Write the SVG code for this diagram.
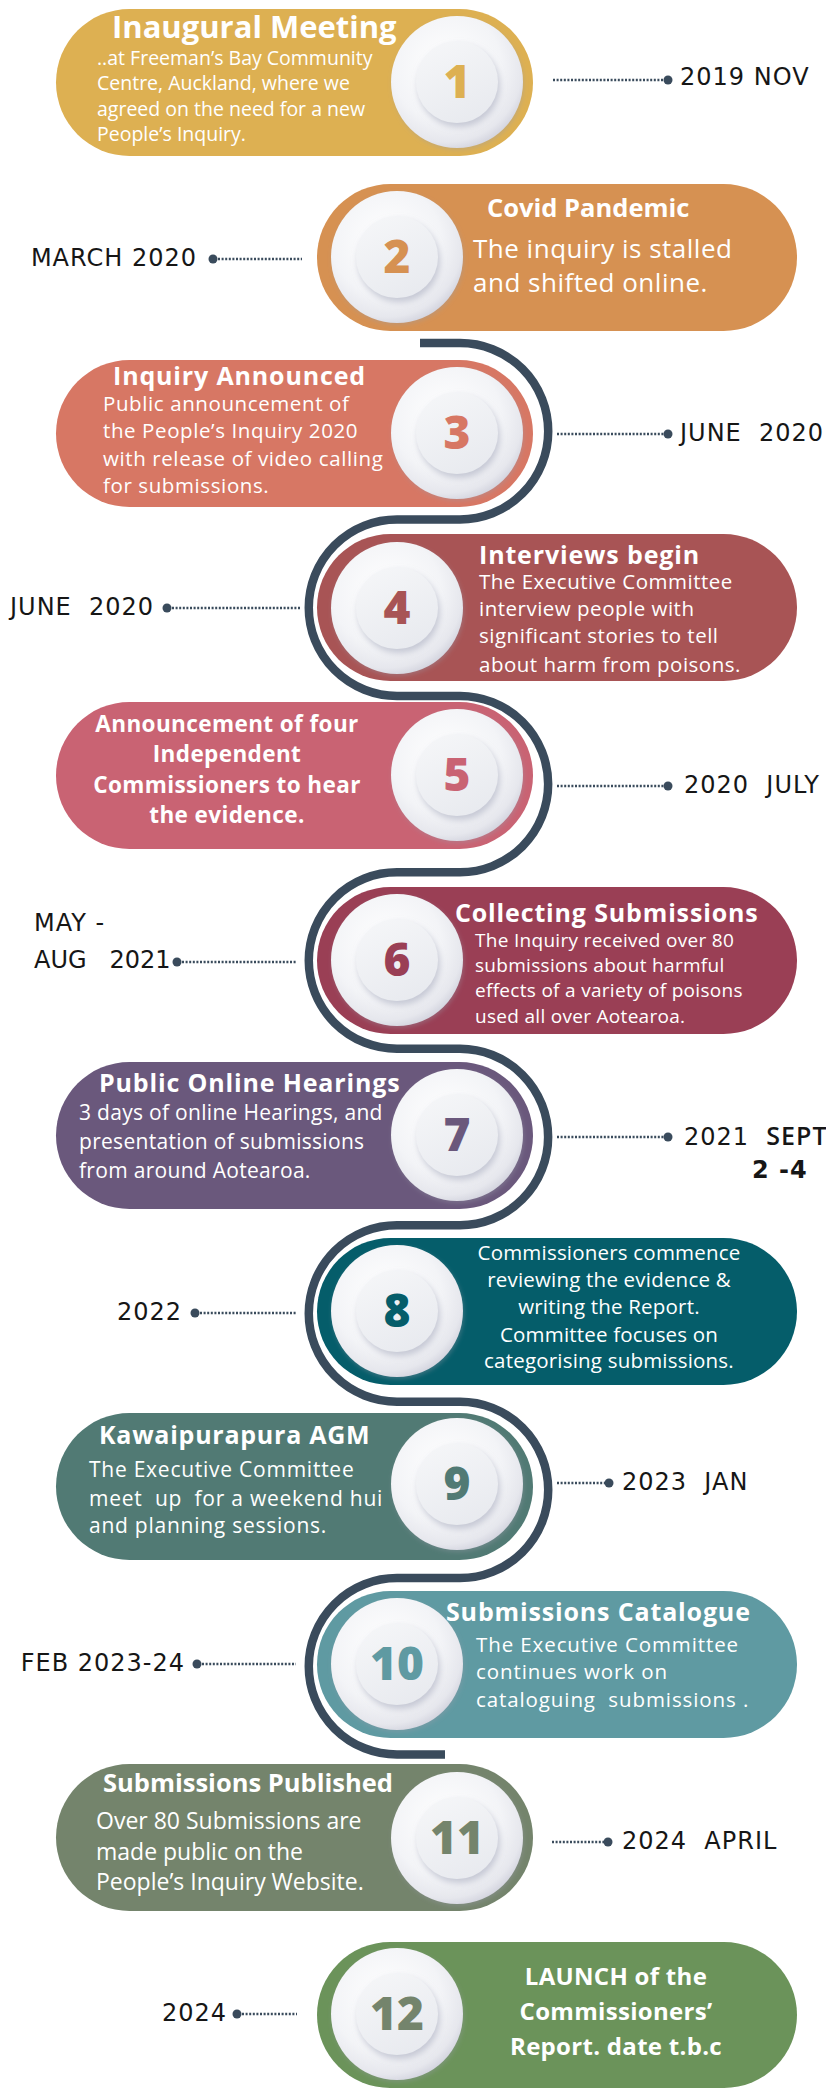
<svg xmlns="http://www.w3.org/2000/svg" xmlns:xlink="http://www.w3.org/1999/xlink" width="826" height="2089" viewBox="0 0 826 2089">
<style>
.t{font-family:"Open Sans","Liberation Sans",sans-serif;font-weight:700;fill:#fff}
.b{font-family:"Open Sans","Liberation Sans",sans-serif;font-weight:400;fill:#fff}
.c{text-anchor:middle}
.n{font-family:"Open Sans","Liberation Sans",sans-serif;font-weight:800;font-size:46px;text-anchor:middle}
.d{font-family:"DejaVu Sans","Liberation Sans",sans-serif;font-size:24px;fill:#161616;letter-spacing:1px}
.e{text-anchor:end}
.lead{stroke:#3a4b5c;stroke-width:2.4;stroke-dasharray:2 1.6;fill:none}
.dot{fill:#3a4b5c}
.snake{fill:none;stroke:#3a4b5c;stroke-width:8.5}
</style>
<defs>
<radialGradient id="gOuter" cx="0.42" cy="0.38" r="0.64">
<stop offset="0" stop-color="#ffffff"/>
<stop offset="0.65" stop-color="#f3f4f7"/>
<stop offset="0.9" stop-color="#e6e7ed"/>
<stop offset="1" stop-color="#d5d6e0"/>
</radialGradient>
<linearGradient id="gInner" x1="0.2" y1="0" x2="0.7" y2="1">
<stop offset="0" stop-color="#f5f6f8"/>
<stop offset="1" stop-color="#e8eaef"/>
</linearGradient>
<filter id="sh" x="-30%" y="-30%" width="170%" height="170%">
<feDropShadow dx="2" dy="4" stdDeviation="3" flood-color="#aeb1c2" flood-opacity="0.65"/>
</filter>
<filter id="sh2" x="-20%" y="-20%" width="150%" height="150%">
<feDropShadow dx="1" dy="2" stdDeviation="2" flood-color="#9a9cab" flood-opacity="0.35"/>
</filter>
<g id="badge">
<circle r="66" fill="url(#gOuter)" filter="url(#sh2)"/>
<circle r="41" fill="url(#gInner)" filter="url(#sh)"/>
</g>
</defs>
<rect width="826" height="2089" fill="#ffffff"/>

<g id="connectors">
<path class="snake" d="M420 343 H460 A88.22 88.22 0 0 1 460 519.44 H397 A88.22 88.22 0 0 0 397 695.88 H460 A88.22 88.22 0 0 1 460 872.32 H397 A88.22 88.22 0 0 0 397 1048.76 H460 A88.22 88.22 0 0 1 460 1225.2 H397 A88.22 88.22 0 0 0 397 1401.64 H460 A88.22 88.22 0 0 1 460 1578.08 H397 A88.22 88.22 0 0 0 397 1754.52 H445"/>
<path class="lead" d="M553 80 H664"/><circle class="dot" cx="668" cy="80" r="4.5"/>
<path class="lead" d="M218 259 H302"/><circle class="dot" cx="213" cy="259" r="4.5"/>
<path class="lead" d="M557 434 H664"/><circle class="dot" cx="668" cy="434" r="4.5"/>
<path class="lead" d="M172 608 H301"/><circle class="dot" cx="167" cy="608" r="4.5"/>
<path class="lead" d="M557 786 H664"/><circle class="dot" cx="668" cy="786" r="4.5"/>
<path class="lead" d="M182 962 H296"/><circle class="dot" cx="177" cy="962" r="4.5"/>
<path class="lead" d="M557 1137 H664"/><circle class="dot" cx="668" cy="1137" r="4.5"/>
<path class="lead" d="M200 1313 H296"/><circle class="dot" cx="195" cy="1313" r="4.5"/>
<path class="lead" d="M557 1483 H605"/><circle class="dot" cx="609" cy="1483" r="4.5"/>
<path class="lead" d="M202 1664 H296"/><circle class="dot" cx="197" cy="1664" r="4.5"/>
<path class="lead" d="M552 1842 H604"/><circle class="dot" cx="608" cy="1842" r="4.5"/>
<path class="lead" d="M242 2014 H297"/><circle class="dot" cx="237" cy="2014" r="4.5"/>
</g>

<g id="node1">
<rect x="56" y="9" width="477" height="147" rx="73.5" fill="#DDB052"/>
<use xlink:href="#badge" x="457" y="82"/>
<text class="n" x="457" y="98" fill="#DDB052">1</text>
<text class="t" x="112" y="38" font-size="31">Inaugural Meeting</text>
<text class="b" font-size="19.5"><tspan x="97" y="65">..at Freeman’s Bay Community</tspan><tspan x="97" y="90">Centre, Auckland, where we</tspan><tspan x="97" y="116">agreed on the need for a new</tspan><tspan x="97" y="141">People’s Inquiry.</tspan></text>
<text class="d" x="680" y="85">2019 NOV</text>
</g>

<g id="node2">
<rect x="317" y="184" width="480" height="147" rx="73.5" fill="#D69152"/>
<use xlink:href="#badge" x="397" y="257"/>
<text class="n" x="397" y="273" fill="#D69152">2</text>
<text class="t" x="487" y="217" font-size="25.5">Covid Pandemic</text>
<text class="b" font-size="26" letter-spacing="0.5"><tspan x="473" y="258">The inquiry is stalled</tspan><tspan x="473" y="292">and shifted online.</tspan></text>
<text class="d e" x="197" y="266">MARCH 2020</text>
</g>

<g id="node3">
<rect x="56" y="360" width="477" height="147" rx="73.5" fill="#D77764"/>
<use xlink:href="#badge" x="457" y="433"/>
<text class="n" x="457" y="449" fill="#D77764">3</text>
<text class="t" x="113" y="385" font-size="25" letter-spacing="0.85">Inquiry Announced</text>
<text class="b" font-size="20.5" letter-spacing="0.6"><tspan x="103" y="411">Public announcement of</tspan><tspan x="103" y="438">the People’s Inquiry 2020</tspan><tspan x="103" y="466">with release of video calling</tspan><tspan x="103" y="493">for submissions.</tspan></text>
<text class="d" x="680" y="441" xml:space="preserve">JUNE  2020</text>
</g>

<g id="node4">
<rect x="317" y="534" width="480" height="147" rx="73.5" fill="#A85455"/>
<use xlink:href="#badge" x="397" y="608"/>
<text class="n" x="397" y="624" fill="#A85455">4</text>
<text class="t" x="479" y="564" font-size="25" letter-spacing="0.85">Interviews begin</text>
<text class="b" font-size="20.5" letter-spacing="0.5"><tspan x="479" y="589">The Executive Committee</tspan><tspan x="479" y="616">interview people with</tspan><tspan x="479" y="643">significant stories to tell</tspan><tspan x="479" y="672">about harm from poisons.</tspan></text>
<text class="d" x="10" y="615" xml:space="preserve">JUNE  2020</text>
</g>

<g id="node5">
<rect x="56" y="702" width="477" height="147" rx="73.5" fill="#C96373"/>
<use xlink:href="#badge" x="457" y="775"/>
<text class="n" x="457" y="791" fill="#C96373">5</text>
<text class="t c" font-size="22.5" letter-spacing="0.4"><tspan x="227" y="732">Announcement of four</tspan><tspan x="227" y="762">Independent</tspan><tspan x="227" y="793">Commissioners to hear</tspan><tspan x="227" y="823">the evidence.</tspan></text>
<text class="d" x="684" y="793" xml:space="preserve">2020  JULY</text>
</g>

<g id="node6">
<rect x="317" y="887" width="480" height="147" rx="73.5" fill="#9A3F55"/>
<use xlink:href="#badge" x="397" y="960"/>
<text class="n" x="397" y="976" fill="#9A3F55">6</text>
<text class="t" x="455" y="922" font-size="25" letter-spacing="0.85">Collecting Submissions</text>
<text class="b" font-size="19" letter-spacing="0.3"><tspan x="475" y="947">The Inquiry received over 80</tspan><tspan x="475" y="972">submissions about harmful</tspan><tspan x="475" y="997">effects of a variety of poisons</tspan><tspan x="475" y="1023">used all over Aotearoa.</tspan></text>
<text class="d" xml:space="preserve"><tspan x="34" y="931">MAY -</tspan><tspan x="34" y="968" letter-spacing="0">AUG   2021</tspan></text>
</g>

<g id="node7">
<rect x="56" y="1062" width="477" height="147" rx="73.5" fill="#6A587C"/>
<use xlink:href="#badge" x="457" y="1135"/>
<text class="n" x="457" y="1151" fill="#6A587C">7</text>
<text class="t" x="99" y="1092" font-size="25" letter-spacing="0.85">Public Online Hearings</text>
<text class="b" font-size="21" letter-spacing="0.3"><tspan x="79" y="1120">3 days of online Hearings, and</tspan><tspan x="79" y="1149">presentation of submissions</tspan><tspan x="79" y="1178">from around Aotearoa.</tspan></text>
<text class="d" x="684" y="1145" xml:space="preserve">2021  <tspan font-family="Open Sans" font-weight="600" font-size="25">SEPT</tspan></text>
<text class="d" x="752" y="1178" font-family="Open Sans" font-weight="600" font-size="25">2 -4</text>
</g>

<g id="node8">
<rect x="317" y="1238" width="480" height="147" rx="73.5" fill="#055D6A"/>
<use xlink:href="#badge" x="397" y="1311"/>
<text class="n" x="397" y="1327" fill="#055D6A">8</text>
<text class="b c" font-size="20.5" letter-spacing="0.2"><tspan x="609" y="1260">Commissioners commence</tspan><tspan x="609" y="1287">reviewing the evidence &amp;</tspan><tspan x="609" y="1314">writing the Report.</tspan><tspan x="609" y="1342">Committee focuses on</tspan><tspan x="609" y="1368">categorising submissions.</tspan></text>
<text class="d e" x="182" y="1320">2022</text>
</g>

<g id="node9">
<rect x="56" y="1413" width="477" height="147" rx="73.5" fill="#517A74"/>
<use xlink:href="#badge" x="457" y="1484"/>
<text class="n" x="457" y="1500" fill="#517A74">9</text>
<text class="t" x="99" y="1444" font-size="25" letter-spacing="0.75">Kawaipurapura AGM</text>
<text class="b" font-size="21" letter-spacing="0.75" xml:space="preserve"><tspan x="89" y="1477">The Executive Committee</tspan><tspan x="89" y="1506">meet  up  for a weekend hui</tspan><tspan x="89" y="1533">and planning sessions.</tspan></text>
<text class="d" x="622" y="1490" xml:space="preserve">2023  JAN</text>
</g>

<g id="node10">
<rect x="317" y="1591" width="480" height="147" rx="73.5" fill="#5F9AA2"/>
<use xlink:href="#badge" x="397" y="1664"/>
<text class="n" x="397" y="1680" fill="#5F9AA2">10</text>
<text class="t" x="446" y="1621" font-size="25" letter-spacing="0.85">Submissions Catalogue</text>
<text class="b" font-size="20.5" letter-spacing="0.9" xml:space="preserve"><tspan x="476" y="1652">The Executive Committee</tspan><tspan x="476" y="1679">continues work on</tspan><tspan x="476" y="1707">cataloguing  submissions .</tspan></text>
<text class="d e" x="185" y="1671">FEB 2023-24</text>
</g>

<g id="node11">
<rect x="56" y="1764" width="477" height="147" rx="73.5" fill="#74846C"/>
<use xlink:href="#badge" x="457" y="1838"/>
<text class="n" x="457" y="1854" fill="#74846C">11</text>
<text class="t" x="103" y="1792" font-size="25.5">Submissions Published</text>
<text class="b" font-size="23"><tspan x="96" y="1829">Over 80 Submissions are</tspan><tspan x="96" y="1860">made public on the</tspan><tspan x="96" y="1890">People’s Inquiry Website.</tspan></text>
<text class="d" x="622" y="1849" xml:space="preserve">2024  APRIL</text>
</g>

<g id="node12">
<rect x="317" y="1942" width="480" height="146" rx="73" fill="#6B935A"/>
<use xlink:href="#badge" x="397" y="2014"/>
<text class="n" x="397" y="2030" fill="#74846C">12</text>
<text class="t c" font-size="24" letter-spacing="0.3"><tspan x="616" y="1985">LAUNCH of the</tspan><tspan x="616" y="2020">Commissioners’</tspan><tspan x="616" y="2055">Report. date t.b.c</tspan></text>
<text class="d e" x="227" y="2021">2024</text>
</g>
</svg>
